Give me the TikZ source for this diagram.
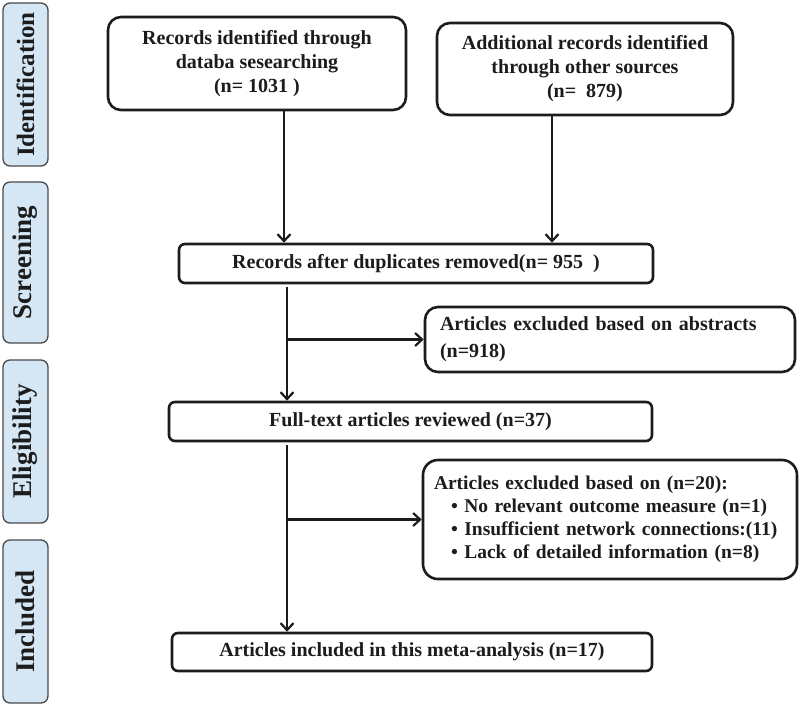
\documentclass[tikz,border=0pt]{standalone}
\usepackage{fontspec}
\setmainfont{Liberation Serif}
\usetikzlibrary{arrows.meta}
\definecolor{stagefill}{HTML}{D5E6F5}
\definecolor{stageline}{HTML}{4A4A4A}
\definecolor{ink}{HTML}{1C1C1C}
\begin{document}
\begin{tikzpicture}[x=1pt,y=-1pt,
  flowbox/.style={draw=ink, line width=2.6pt, rounded corners=#1, fill=white, inner sep=0pt,
    font=\bfseries\fontsize{20}{24}\selectfont, text=ink, align=center},
  flowbox/.default=6pt,
  stagebox/.style={draw=stageline, line width=1.3pt, rounded corners=7pt, fill=stagefill,
    rotate=90, minimum height=45pt, inner sep=0pt, text=ink,
    font=\bfseries\fontsize{27}{30}\selectfont},
  conn/.style={draw=ink, line width=2.2pt},
  arr/.style={conn, -{Straight Barb[length=7pt,width=13pt,line width=2.2pt]}}
]
\useasboundingbox[fill=white] (0,0) rectangle (800,707);

% stage labels
\node[stagebox, minimum width=163pt] (s1) at (25.5,84.5) {\fontsize{25}{28}\selectfont Identification};
\node[stagebox, minimum width=161pt] (s2) at (25.5,262.5) {Screening};
\node[stagebox, minimum width=163pt] (s3) at (25.5,441.5) {Eligibility};
\node[stagebox, minimum width=163pt] (s4) at (25.5,621.5) {Included};

% boxes
\node[flowbox=13pt, minimum width=298pt, minimum height=93pt] (b1) at (257,63.5)
  {Records identified through\\databa sesearching\\(n= 1031 )};
\node[flowbox=13pt, minimum width=296pt, minimum height=92pt] (b2) at (585,69)
  {Additional records identified\\through other sources\\(n=~~879)};
\node[flowbox, minimum width=474pt, minimum height=39pt] (b3) at (416,263.5)
  {Records after duplicates removed(n= 955~~)};
\node[flowbox=13pt, minimum width=370pt, minimum height=65pt, align=left, text width=340pt,
  font=\bfseries\fontsize{20}{27}\selectfont] (b5) at (610,339.5)
  {Articles excluded based on abstracts\\(n=918)};
\node[flowbox, minimum width=483pt, minimum height=39pt] (b4) at (410.5,421.5)
  {Full-text articles reviewed (n=37)};
\node[flowbox=15pt, minimum width=374pt, minimum height=119pt, align=left, text width=352pt,
  font=\bfseries\fontsize{19.5}{23}\selectfont] (b6) at (610,519.5)
  {Articles excluded based on (n=20):\\
   \hspace*{17pt}\textbullet\ No relevant outcome measure (n=1)\\
   \hspace*{17pt}\textbullet\ Insufficient network connections:(11)\\
   \hspace*{17pt}\textbullet\ Lack of detailed information (n=8)};
\node[flowbox, minimum width=480pt, minimum height=38pt] (b7) at (412,652)
  {Articles included in this meta-analysis (n=17)};

% connector columns
\coordinate (xa) at (284,0);
\coordinate (xb) at (552,0);
\coordinate (xs) at (287,0);

\draw[arr] (b1.south -| xa) -- (b3.north -| xa);
\draw[arr] (b2.south -| xb) -- (b3.north -| xb);
\draw[arr] ([yshift=-3pt]b3.south -| xs) -- (b4.north -| xs);
\draw[arr] (b5.west -| xs) -- (b5.west);
\draw[arr] ([yshift=-3pt]b4.south -| xs) -- (b7.north -| xs);
\draw[arr] (b6.west -| xs) -- (b6.west);
\end{tikzpicture}
\end{document}
